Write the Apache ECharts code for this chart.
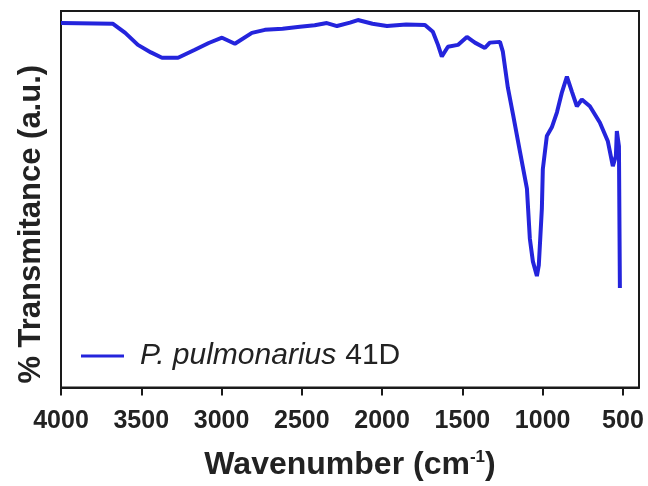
<!DOCTYPE html>
<html>
<head>
<meta charset="utf-8">
<script src="https://cdn.jsdelivr.net/npm/echarts@6/dist/echarts.min.js"></script>
<style>html,body{margin:0;padding:0;background:#fff}#c{width:648px;height:486px}</style>
</head>
<body>
<div id="c"></div>
<script>
var wavenumbers = [4000,3676,3600,3521,3440,3371,3271,3166,3080,2997,2917,2811,2730,2620,2512,2420,2344,2281,2200,2151,2060,1970,1850,1733,1684,1652,1628,1590,1528,1472,1422,1360,1329,1266,1248,1217,1185,1142,1098,1080,1061,1036,1024,1005,999,974,943,911,880,849,818,787,756,706,644,594,563,544,538,525,519];
var transmittance = [96.8,96.6,94.2,91.0,89.0,87.6,87.6,89.7,91.5,92.9,91.3,94.2,95.0,95.3,95.8,96.2,96.8,96.0,96.9,97.6,96.6,96.0,96.4,96.3,94.5,91.0,87.9,90.5,91.0,93.1,91.6,90.2,91.6,91.8,89.2,79.7,72.6,62.8,52.8,39.6,33.5,29.6,32.5,47.5,58.0,66.8,69.1,73.1,78.4,82.6,78.6,74.7,76.5,74.7,70.4,65.4,58.8,61.5,68.1,64.1,26.4];
var xTicks = [4000,3500,3000,2500,2000,1500,1000,500];
var seriesName = 'P. pulmonarius 41D';

var FONT = 'Liberation Sans, Arial, sans-serif';
var pts = wavenumbers.map(function(w,i){return [w, transmittance[i]];});
var chart = echarts.init(document.getElementById('c'));
chart.setOption({
  animation:false,
  backgroundColor:'#fff',
  grid:{left:61,right:9,top:11,bottom:96,show:true,borderColor:'#1a1a1a',borderWidth:2,backgroundColor:'transparent'},
  legend:{
    left:76, top:336, icon:'rect', itemWidth:43, itemHeight:3, itemGap:10,
    data:[{name:seriesName, icon:'rect'}],
    formatter:function(){return '{i|P. pulmonarius}{n|41D}';},
    textStyle:{rich:{
      i:{fontFamily:FONT,fontStyle:'italic',fontSize:30,color:'#222',padding:[0,0,0,11]},
      n:{fontFamily:FONT,fontSize:30,color:'#222',padding:[0,0,0,9]}
    }}
  },
  xAxis:{
    type:'value', min:400, max:4000, inverse:true,
    name:'{t|Wavenumber (cm}{s|-1}{t|)}', nameLocation:'middle', nameGap:61,
    nameTextStyle:{rich:{
      t:{fontFamily:FONT,fontWeight:'bold',fontSize:32,color:'#222'},
      s:{fontFamily:FONT,fontWeight:'bold',fontSize:17,color:'#222',verticalAlign:'top',padding:[0,0,16,0]}
    }},
    axisLine:{show:true,onZero:false,lineStyle:{color:'#1a1a1a',width:2}},
    axisTick:{show:true,inside:false,length:8,lineStyle:{color:'#1a1a1a',width:2},customValues:xTicks},
    axisLabel:{show:true,customValues:xTicks,margin:21,fontFamily:FONT,fontWeight:'bold',fontSize:25,color:'#222',
      formatter:function(v){return String(v);}},
    splitLine:{show:false}
  },
  yAxis:{
    type:'value', min:0, max:100,
    name:'% Transmitance (a.u.)', nameLocation:'middle', nameGap:14,
    nameTextStyle:{fontFamily:FONT,fontWeight:'bold',fontSize:31,color:'#222',padding:[0,50,0,0]},
    axisLine:{show:true,lineStyle:{color:'#1a1a1a',width:2}},
    axisTick:{show:false}, axisLabel:{show:false}, splitLine:{show:false}
  },
  series:[{
    name:seriesName, type:'line', data:pts, showSymbol:false, smooth:false,
    lineStyle:{color:'#2424dc',width:4}, itemStyle:{color:'#2424dc'}
  }]
});
</script>
</body>
</html>
